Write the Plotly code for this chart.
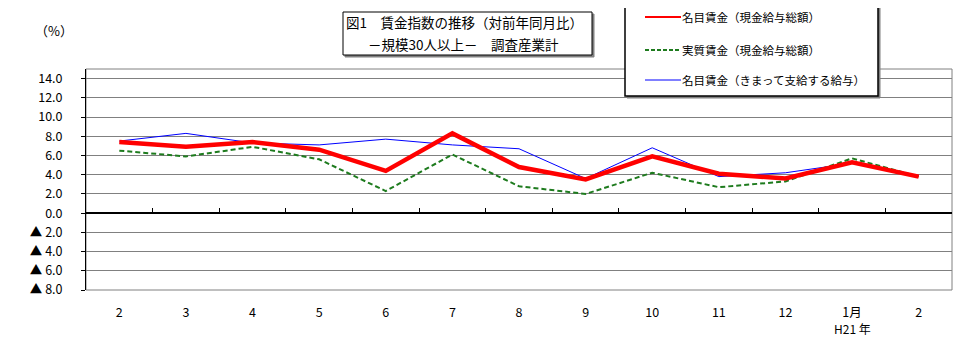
import plotly.graph_objects as go

months = ["2", "3", "4", "5", "6", "7", "8", "9", "10", "11", "12", "1月", "2"]
year_label = "H21 年"
year_label_index = 11
nominal_total = [7.4, 6.9, 7.4, 6.6, 4.4, 8.3, 4.8, 3.5, 5.9, 4.1, 3.6, 5.3, 3.8]
real_total = [6.5, 5.9, 6.9, 5.6, 2.3, 6.1, 2.8, 2.0, 4.2, 2.7, 3.3, 5.7, 3.8]
nominal_fixed = [7.5, 8.3, 7.3, 7.1, 7.7, 7.1, 6.7, 3.6, 6.8, 3.8, 4.2, 5.2, 3.9]
names = ["名目賃金（現金給与総額）", "実質賃金（現金給与総額）", "名目賃金（きまって支給する給与）"]
y_ticks = [14, 12, 10, 8, 6, 4, 2, 0, -2, -4, -6, -8]
y_ticktext = ["14.0", "12.0", "10.0", "8.0", "6.0", "4.0", "2.0", "0.0", "▲ 2.0", "▲ 4.0", "▲ 6.0", "▲ 8.0"]

FONT = "Noto Sans CJK JP"
OFF = 8  # page body margin
W, H = 976 - OFF, 360 - OFF
PL, PR, PT, PB = 86, 952, 69, 290  # plot area in page pixels
L, R, T, B = PL - OFF, (976 - PR), PT - OFF, 360 - PB
PW, PH = W - L - R, H - T - B

def px(x):
    return (x - PL) / PW

def py(y):
    return (PB - y) / PH

xs = list(range(len(months)))
fig = go.Figure()
fig.add_trace(go.Scatter(x=xs, y=nominal_fixed, mode="lines", name=names[2],
                         line=dict(color="#0000FF", width=1)))
fig.add_trace(go.Scatter(x=xs, y=real_total, mode="lines", name=names[1],
                         line=dict(color="#1E7B1E", width=2, dash="5px,3px")))
fig.add_trace(go.Scatter(x=xs, y=nominal_total, mode="lines", name=names[0],
                         line=dict(color="#FF0000", width=4.5)))

shapes = []
shapes.append(dict(type="rect", xref="paper", yref="paper", x0=0, x1=1, y0=0, y1=1,
                   line=dict(color="#808080", width=1), layer="below"))
# title box with shadow
shapes.append(dict(type="rect", xref="paper", yref="paper", x0=px(345), x1=px(594), y0=py(57), y1=py(14),
                   line=dict(color="#808080", width=1), fillcolor="#808080"))
shapes.append(dict(type="rect", xref="paper", yref="paper", x0=px(343), x1=px(592), y0=py(55), y1=py(12),
                   line=dict(color="black", width=1), fillcolor="white"))
# legend box with shadow
shapes.append(dict(type="rect", xref="paper", yref="paper", x0=px(627), x1=px(880), y0=py(98), y1=py(2),
                   line=dict(color="#808080", width=1), fillcolor="#808080"))
shapes.append(dict(type="rect", xref="paper", yref="paper", x0=px(625), x1=px(878), y0=py(96), y1=py(0.5),
                   line=dict(color="black", width=1.5), fillcolor="white"))
leg_y = [17, 50, 80]
leg_styles = [dict(color="#FF0000", width=2), dict(color="#1E7B1E", width=2, dash="4px,2px"),
              dict(color="#0000FF", width=1)]
annotations = []
for nm, yy, st in zip(names, leg_y, leg_styles):
    shapes.append(dict(type="line", xref="paper", yref="paper", x0=px(645), x1=px(681), y0=py(yy), y1=py(yy),
                       line=st))
    annotations.append(dict(xref="paper", yref="paper", x=px(680), y=py(yy), text=nm, showarrow=False,
                            xanchor="left", yanchor="middle", font=dict(family=FONT, size=11.5, color="black")))

annotations.append(dict(xref="paper", yref="paper", x=px(344), y=py(22), text="図1　賃金指数の推移（対前年同月比）",
                        showarrow=False, xanchor="left", yanchor="middle",
                        font=dict(family=FONT, size=13.5, color="black")))
annotations.append(dict(xref="paper", yref="paper", x=px(366), y=py(44), text="－規模30人以上－　調査産業計",
                        showarrow=False, xanchor="left", yanchor="middle",
                        font=dict(family=FONT, size=13.5, color="black")))
annotations.append(dict(xref="paper", yref="paper", x=px(33), y=py(31), text="（%）",
                        showarrow=False, xanchor="left", yanchor="middle",
                        font=dict(family=FONT, size=13, color="black")))
annotations.append(dict(xref="x", yref="paper", x=xs[year_label_index], y=py(328), text=year_label,
                        showarrow=False, xanchor="center", yanchor="middle",
                        font=dict(family=FONT, size=12, color="black")))

fig.update_layout(
    width=W, height=H, margin=dict(l=L, r=R, t=T, b=B),
    paper_bgcolor="white", plot_bgcolor="white", showlegend=False,
    font=dict(family=FONT, size=12, color="black"),
    shapes=shapes, annotations=annotations,
    xaxis=dict(range=[-0.5, len(months) - 0.5], tickmode="array", tickvals=xs, ticktext=months,
               showgrid=False, zeroline=False, showline=False, ticks="", ticklabelstandoff=13,
               tickfont=dict(family=FONT, size=12.5)),
    xaxis2=dict(range=[-0.5, len(months) - 0.5], overlaying="x", anchor="free", position=8 / 23,
                tickmode="array", tickvals=[i + 0.5 for i in xs[:-1]], ticks="inside", ticklen=5,
                tickcolor="black", showticklabels=False, showgrid=False, zeroline=False, showline=False),
    yaxis=dict(range=[-8, 15], tickmode="array", tickvals=y_ticks, ticktext=y_ticktext,
               showgrid=True, gridcolor="#808080", gridwidth=1,
               zeroline=True, zerolinecolor="black", zerolinewidth=1.5,
               showline=True, linecolor="black", linewidth=1,
               ticks="outside", ticklen=4, tickcolor="black", ticklabelstandoff=16,
               tickfont=dict(family=FONT, size=12.5)),
)
fig.add_trace(go.Scatter(x=[], y=[], xaxis="x2", showlegend=False))
fig.write_html("out.html")
